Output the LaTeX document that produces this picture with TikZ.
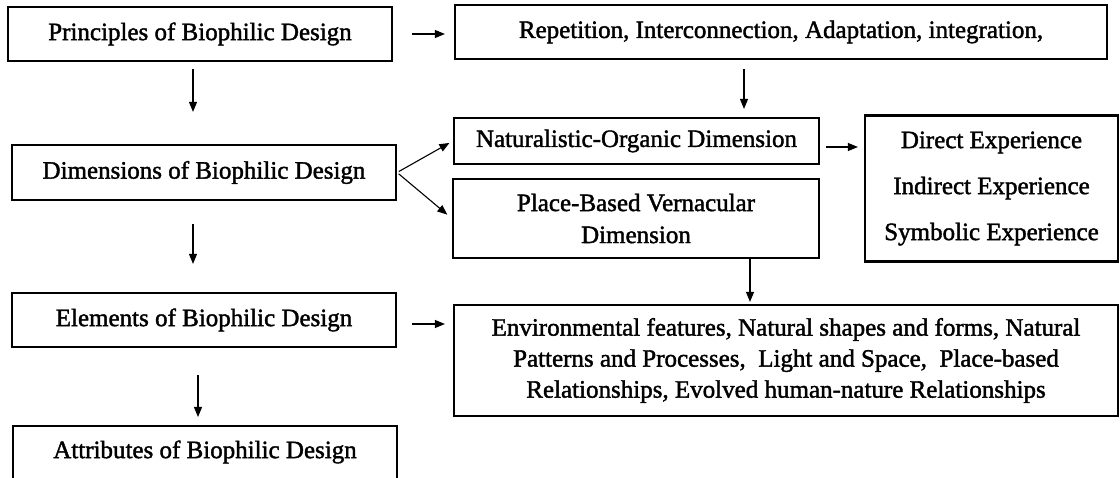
\documentclass[tikz,border=0pt]{standalone}
\usepackage{fontspec}
\setmainfont{Liberation Serif}[FakeBold=1.6]
\usetikzlibrary{arrows.meta}
\tikzset{
  box/.style={draw, line width=2.2pt, inner sep=0pt, align=center,
    font=\fontsize{25}{32}\selectfont},
  arr/.style={line width=1.1pt, -{Triangle[length=10pt,width=8pt]}}
}
\begin{document}
\begin{tikzpicture}[x=1pt,y=-1pt]
\useasboundingbox (0,0) rectangle (1120,478);
\clip (0,0) rectangle (1120,478);
\node[box, minimum width=384pt, minimum height=54pt] (P) at (200,34) {Principles of Biophilic Design};
\node[box, minimum width=652pt, minimum height=54pt] (Rep) at (781,32) {Repetition, Interconnection, Adaptation, integration,};
\node[box, minimum width=384pt, minimum height=55pt] (D) at (204,172.5) {Dimensions of Biophilic Design};
\node[box, minimum width=365pt, minimum height=46pt] (Nat) at (636.5,141) {Naturalistic-Organic Dimension};
\node[box, minimum width=366pt, minimum height=79pt] (Place) at (636,218.5) {Place-Based Vernacular\\Dimension};
\node[box, minimum width=253pt, minimum height=146pt, font=\fontsize{25}{46}\selectfont] (Exp) at (991.5,188.5) {Direct Experience\\Indirect Experience\\Symbolic Experience};
\node[box, minimum width=384pt, minimum height=54pt] (E) at (204,320) {Elements of Biophilic Design};
\node[box, minimum width=664pt, minimum height=111pt, font=\fontsize{25}{31}\selectfont] (Env) at (786,360.5) {Environmental features, Natural shapes and forms, Natural\\Patterns and Processes,\ \ Light and Space,\ \ Place-based\\Relationships, Evolved human-nature Relationships};
\node[box, minimum width=384pt, minimum height=57pt, anchor=north] (A) at (205,425) {};
\node[font=\fontsize{25}{32}\selectfont] (At) at (205,452) {Attributes of Biophilic Design};

\draw[arr, shorten <=19pt, shorten >=9pt] (P.east) -- (P.east -| Rep.west);
\draw[arr, shorten <=7pt, shorten >=32pt] ([xshift=-7pt]P.south) -- ([xshift=-7pt]P.south |- D.north);
\draw[arr, shorten <=9pt, shorten >=8pt] ([xshift=-37pt]Rep.south) -- ([xshift=-37pt]Rep.south |- Nat.north);
\draw[arr, shorten <=2pt, shorten >=4pt] (D.east) -- (Nat.west);
\draw[arr, shorten <=2pt, shorten >=6pt] (D.east) -- (Place.west);
\draw[arr, shorten <=6pt, shorten >=6pt] ([yshift=-6pt]Nat.east) -- ([yshift=-6pt]Nat.east -| Exp.west);
\draw[arr, shorten >=2pt] ([xshift=114pt]Place.south) -- ([xshift=114pt]Place.south |- Env.north);
\draw[arr, shorten <=23pt, shorten >=28pt] ([xshift=-11pt]D.south) -- ([xshift=-11pt]D.south |- E.north);
\draw[arr, shorten <=15pt, shorten >=8pt] ([yshift=-4pt]E.east) -- ([yshift=-4pt]E.east -| Env.west);
\draw[arr, shorten <=27pt, shorten >=8pt] ([xshift=-6pt]E.south) -- ([xshift=-6pt]E.south |- A.north);
\end{tikzpicture}
\end{document}
